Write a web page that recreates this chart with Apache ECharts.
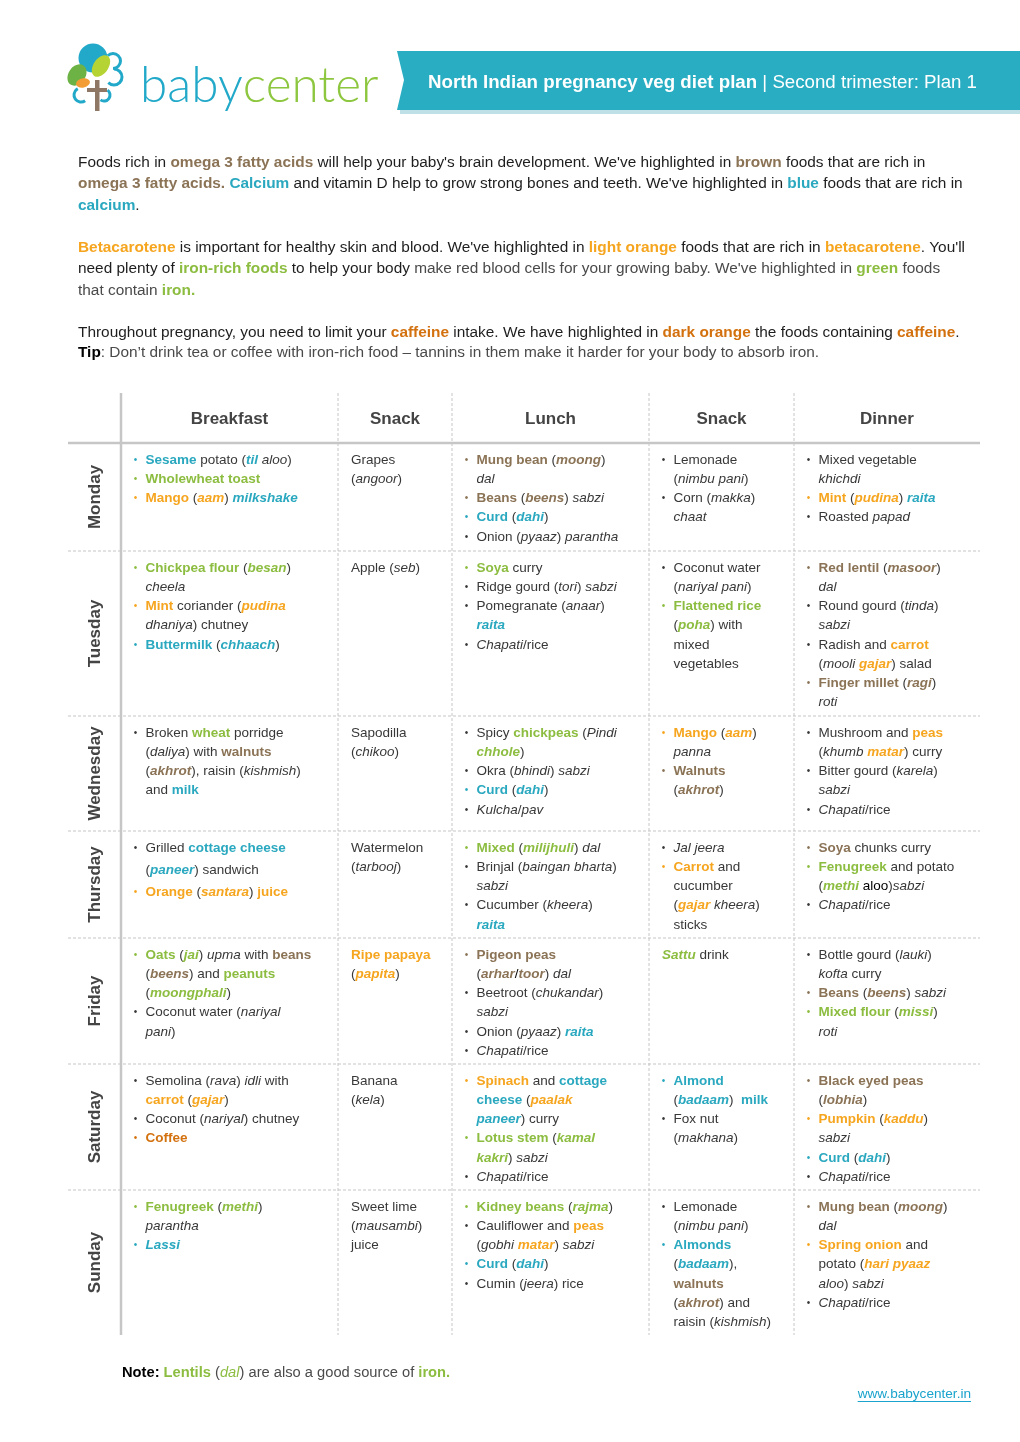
<!DOCTYPE html>
<html><head><meta charset="utf-8">
<script src="https://cdn.jsdelivr.net/npm/echarts@6/dist/echarts.min.js"></script>
<style>html,body{margin:0;padding:0;background:#fff}#c{width:1020px;height:1442px}</style>
</head><body><div id="c"></div>
<script>
// ---------- DATA ----------
const title = ['North Indian pregnancy veg diet plan', '| Second trimester: Plan 1'];
const logoWords = ['baby', 'center'];
const introLines = [
  "Foods rich in {bB|omega 3 fatty acids} will help your baby's brain development. We've highlighted in {bB|brown} foods that are rich in",
  "{bB|omega 3 fatty acids.} {bT|Calcium} and vitamin D help to grow strong bones and teeth. We've highlighted in {bT|blue} foods that are rich in",
  "{bT|calcium}.",
  "{bO|Betacarotene} is important for healthy skin and blood. We've highlighted in {bO|light orange} foods that are rich in {bO|betacarotene}. You'll",
  "need plenty of {bG|iron-rich foods} to help your body {g|make red blood cells for your growing baby. We've highlighted in} {bG|green} {g|foods}",
  "{g|that contain} {bG|iron.}",
  "Throughout pregnancy, you need to limit your {bD|caffeine} intake. We have highlighted in {bD|dark orange} the foods containing {bD|caffeine}.",
  "{kb|Tip}{g|: Don\u2019t drink tea or coffee with iron-rich food \u2013 tannins in them make it harder for your body to absorb iron.}"
];
const days = ['Monday', 'Tuesday', 'Wednesday', 'Thursday', 'Friday', 'Saturday', 'Sunday'];
const meals = ['Breakfast', 'Snack', 'Lunch', 'Snack', 'Dinner'];

// each cell: list of [bulletColourKey ('' = no bullet), rich text]
const monday = [
  [['T', '{bT|Sesame} potato ({iT|til} {i|aloo})'], ['G', '{bG|Wholewheat toast}'], ['O', '{bO|Mango} ({iO|aam}) {iT|milkshake}']],
  [['', 'Grapes\n({i|angoor})']],
  [['B', '{bB|Mung bean} ({iB|moong})\n{i|dal}'], ['B', '{bB|Beans} ({iB|beens}) {i|sabzi}'], ['T', '{bT|Curd} ({iT|dahi})'], ['n', 'Onion ({i|pyaaz}) {i|parantha}']],
  [['n', 'Lemonade\n({i|nimbu pani})'], ['n', 'Corn ({i|makka})\n{i|chaat}']],
  [['n', 'Mixed vegetable\n{i|khichdi}'], ['O', '{bO|Mint} ({iO|pudina}) {iT|raita}'], ['n', 'Roasted {i|papad}']]
];
const tuesday = [
  [['G', '{bG|Chickpea flour} ({iG|besan})\n{i|cheela}'], ['O', '{bO|Mint} coriander ({iO|pudina}\n{i|dhaniya}) chutney'], ['T', '{bT|Buttermilk} ({iT|chhaach})']],
  [['', 'Apple ({i|seb})']],
  [['G', '{bG|Soya} curry'], ['n', 'Ridge gourd ({i|tori}) {i|sabzi}'], ['n', 'Pomegranate ({i|anaar})\n{iT|raita}'], ['n', '{i|Chapati}/rice']],
  [['n', 'Coconut water\n({i|nariyal pani})'], ['G', '{bG|Flattened rice}\n({iG|poha}) with\nmixed\nvegetables']],
  [['B', '{bB|Red lentil} ({iB|masoor})\n{i|dal}'], ['n', 'Round gourd ({i|tinda})\n{i|sabzi}'], ['n', 'Radish and {bO|carrot}\n({i|mooli} {iO|gajar}) salad'], ['B', '{bB|Finger millet} ({iB|ragi})\n{i|roti}']]
];
const wednesday = [
  [['n', 'Broken {bG|wheat} porridge\n({i|daliya}) with {bB|walnuts}\n({iB|akhrot}), raisin ({i|kishmish})\nand {bT|milk}']],
  [['', 'Sapodilla\n({i|chikoo})']],
  [['n', 'Spicy {bG|chickpeas} ({i|Pindi}\n{iG|chhole})'], ['n', 'Okra ({i|bhindi}) {i|sabzi}'], ['T', '{bT|Curd} ({iT|dahi})'], ['n', '{i|Kulcha}/{i|pav}']],
  [['O', '{bO|Mango} ({iO|aam})\n{i|panna}'], ['B', '{bB|Walnuts}\n({iB|akhrot})']],
  [['n', 'Mushroom and {bO|peas}\n({i|khumb} {iO|matar}) curry'], ['n', 'Bitter gourd ({i|karela})\n{i|sabzi}'], ['n', '{i|Chapati}/rice']]
];
const thursday = [
  [['n', 'Grilled {bT|cottage cheese}\n({iT|paneer}) sandwich'], ['O', '{bO|Orange} ({iO|santara}) {bO|juice}']],
  [['', 'Watermelon\n({i|tarbooj})']],
  [['G', '{bG|Mixed} ({iG|milijhuli}) {i|dal}'], ['n', 'Brinjal ({i|baingan bharta})\n{i|sabzi}'], ['n', 'Cucumber ({i|kheera})\n{iT|raita}']],
  [['n', '{i|Jal jeera}'], ['O', '{bO|Carrot} and\ncucumber\n({iO|gajar} {i|kheera})\nsticks']],
  [['B', '{bB|Soya} chunks curry'], ['G', '{bG|Fenugreek} and potato\n({iG|methi} {k|aloo}){i|sabzi}'], ['n', '{i|Chapati}/rice']]
];
const friday = [
  [['G', '{bG|Oats} ({iG|jai}) {i|upma} with {bB|beans}\n({iB|beens}) and {bG|peanuts}\n({iG|moongphali})'], ['n', 'Coconut water ({i|nariyal}\n{i|pani})']],
  [['', '{bO|Ripe papaya}\n({iO|papita})']],
  [['B', '{bB|Pigeon peas}\n({iB|arhar}{k|/}{iB|toor}) {i|dal}'], ['n', 'Beetroot ({i|chukandar})\n{i|sabzi}'], ['n', 'Onion ({i|pyaaz}) {iT|raita}'], ['n', '{i|Chapati}/rice']],
  [['', '{iG|Sattu} drink']],
  [['n', 'Bottle gourd ({i|lauki})\n{i|kofta} curry'], ['B', '{bB|Beans} ({iB|beens}) {i|sabzi}'], ['G', '{bG|Mixed flour} ({iG|missi})\n{i|roti}']]
];
const saturday = [
  [['n', 'Semolina ({i|rava}) {i|idli} with\n{bO|carrot} ({iO|gajar})'], ['n', 'Coconut ({i|nariyal}) chutney'], ['D', '{bD|Coffee}']],
  [['', 'Banana\n({i|kela})']],
  [['O', '{bO|Spinach} and {bT|cottage}\n{bT|cheese} ({iO|paalak}\n{iT|paneer}) curry'], ['G', '{bG|Lotus stem} ({iG|kamal}\n{iG|kakri}) {i|sabzi}'], ['n', '{i|Chapati}/rice']],
  [['T', '{bT|Almond}\n({iT|badaam})  {bT|milk}'], ['n', 'Fox nut\n({i|makhana})']],
  [['B', '{bB|Black eyed peas}\n({iB|lobhia})'], ['O', '{bO|Pumpkin} ({iO|kaddu})\n{i|sabzi}'], ['T', '{bT|Curd} ({iT|dahi})'], ['n', '{i|Chapati}/rice']]
];
const sunday = [
  [['G', '{bG|Fenugreek} ({iG|methi})\n{i|parantha}'], ['T', '{iT|Lassi}']],
  [['', 'Sweet lime\n({i|mausambi})\njuice']],
  [['G', '{bG|Kidney beans} ({iG|rajma})'], ['n', 'Cauliflower and {bO|peas}\n({i|gobhi} {iO|matar}) {i|sabzi}'], ['T', '{bT|Curd} ({iT|dahi})'], ['n', 'Cumin ({i|jeera}) rice']],
  [['n', 'Lemonade\n({i|nimbu pani})'], ['T', '{bT|Almonds}\n({iT|badaam}),\n{bB|walnuts}\n({iB|akhrot}) and\nraisin ({i|kishmish})']],
  [['B', '{bB|Mung bean} ({iB|moong})\n{i|dal}'], ['O', '{bO|Spring onion} and\npotato ({iO|hari pyaaz}\n{i|aloo}) {i|sabzi}'], ['n', '{i|Chapati}/rice']]
];
const noteText = '{kb|Note:} {bG|Lentils} ({iGn|dal}) are also a good source of {bG|iron.}';
const siteUrl = 'www.babycenter.in';

// ---------- LAYOUT / STYLE ----------
const F = "'Liberation Sans', Arial, Helvetica, sans-serif";
const C = {
  text: '#383838', head: '#444444', brown: '#8b7356', teal: '#2aa8bf', orange: '#f6a51f',
  green: '#8cbd40', dorange: '#d3710f', gray: '#4a4a4a', grid: '#c6c6c6', banner: '#29adc3'
};
const bulletFill = { T: C.teal, G: C.green, O: C.orange, B: C.brown, D: C.dorange, n: C.text };
function richSet(size, lh, baseFill) {
  const s = (fill, fw, fs) => ({ fill, fontWeight: fw, fontStyle: fs, fontSize: size, fontFamily: F, lineHeight: lh });
  return {
    i: s(baseFill, 'normal', 'italic'), k: s('#000', 'normal', 'normal'), kb: s('#000', 'bold', 'normal'),
    g: s(C.gray, 'normal', 'normal'),
    bB: s(C.brown, 'bold', 'normal'), iB: s(C.brown, 'bold', 'italic'),
    bT: s(C.teal, 'bold', 'normal'), iT: s(C.teal, 'bold', 'italic'),
    bO: s(C.orange, 'bold', 'normal'), iO: s(C.orange, 'bold', 'italic'),
    bG: s(C.green, 'bold', 'normal'), iG: s(C.green, 'bold', 'italic'), iGn: s(C.green, 'normal', 'italic'),
    bD: s(C.dorange, 'bold', 'normal')
  };
}
const colX = [121, 338, 452, 649, 794, 980];
const rowY = [443, 551, 716, 831, 938, 1064, 1190, 1335];
const tableLeft = 68, tableTop = 393;
const introY = [163, 184, 206, 248, 269, 291, 333, 353];
const introSize = 15.4;
const cellSize = 13.5, cellLH = 19.2;

const els = [];
// banner
els.push({ type: 'rect', shape: { x: 400, y: 109, width: 620, height: 5 }, style: { fill: '#bfe0e7' } });
els.push({ type: 'polygon', shape: { points: [[397, 51], [1020, 51], [1020, 110], [397, 110], [404, 80]] }, style: { fill: C.banner } });
els.push({ type: 'text', x: 428, y: 83, style: {
  text: '{tb|' + title[0] + '} ' + title[1], verticalAlign: 'middle', align: 'left',
  fill: '#fff', fontSize: 18.7, fontFamily: F,
  rich: { tb: { fill: '#fff', fontWeight: 'bold', fontSize: 18.7, fontFamily: F } } } });

// logo
const lt = '#22a9c9', lg = '#8dc63f';
els.push({ type: 'circle', shape: { cx: 93, cy: 58, r: 14.5 }, style: { fill: lt } });
els.push({ type: 'arc', shape: { cx: 113, cy: 61, r: 7.5, startAngle: -Math.PI * 0.75, endAngle: Math.PI * 0.5 }, style: { stroke: lt, lineWidth: 3, fill: null } });
els.push({ type: 'arc', shape: { cx: 114, cy: 77, r: 8, startAngle: -Math.PI * 0.5, endAngle: Math.PI * 0.75 }, style: { stroke: lt, lineWidth: 3, fill: null } });
els.push({ type: 'arc', shape: { cx: 81, cy: 95, r: 7, startAngle: Math.PI * 0.3, endAngle: Math.PI * 1.35 }, style: { stroke: lt, lineWidth: 3, fill: null } });
els.push({ type: 'arc', shape: { cx: 104, cy: 95, r: 6, startAngle: -Math.PI * 0.3, endAngle: Math.PI * 0.7 }, style: { stroke: lt, lineWidth: 3, fill: null } });
els.push({ type: 'ellipse', shape: { cx: 0, cy: 0, rx: 8.5, ry: 11.5 }, x: 77, y: 75, rotation: -0.6, style: { fill: '#6cb244' } });
els.push({ type: 'ellipse', shape: { cx: 0, cy: 0, rx: 7.5, ry: 12 }, x: 101, y: 66, rotation: -0.6, style: { fill: '#b6d334' } });
els.push({ type: 'ellipse', shape: { cx: 0, cy: 0, rx: 7, ry: 4.5 }, x: 83, y: 83, rotation: 0.2, style: { fill: '#f49c34' } });
els.push({ type: 'rect', shape: { x: 95, y: 80, width: 4.5, height: 31 }, style: { fill: '#8e7764' } });
els.push({ type: 'rect', shape: { x: 87, y: 88, width: 20, height: 4 }, style: { fill: '#8e7764' } });
els.push({ type: 'text', x: 140, y: 86, style: {
  text: '{a|' + logoWords[0] + '}{b|' + logoWords[1] + '}', verticalAlign: 'middle',
  rich: { a: { fill: lt, fontSize: 49.5, fontWeight: 300, fontFamily: 'Lato, sans-serif' }, b: { fill: lg, fontSize: 49.5, fontWeight: 300, fontFamily: 'Lato, sans-serif' } } } });

// intro paragraphs
const introRich = richSet(introSize, 20, '#222');
introLines.forEach((t, k) => {
  els.push({ type: 'text', x: 78, y: introY[k], style: { text: t, verticalAlign: 'middle', fill: '#1e1e1e', fontSize: introSize, fontFamily: F, rich: introRich } });
});

// grid lines
const right = colX[colX.length - 1], bottom = rowY[rowY.length - 1];
for (let c = 1; c < colX.length - 1; c++) {
  els.push({ type: 'line', shape: { x1: colX[c], y1: tableTop, x2: colX[c], y2: bottom }, style: { stroke: C.grid, lineWidth: 1, lineDash: [3, 2] } });
}
for (let r = 1; r < rowY.length - 1; r++) {
  els.push({ type: 'line', shape: { x1: tableLeft, y1: rowY[r], x2: right, y2: rowY[r] }, style: { stroke: C.grid, lineWidth: 1.2, lineDash: [3, 2] } });
}
els.push({ type: 'line', shape: { x1: tableLeft, y1: rowY[0], x2: right, y2: rowY[0] }, style: { stroke: C.grid, lineWidth: 2.5 } });
els.push({ type: 'line', shape: { x1: colX[0], y1: tableTop, x2: colX[0], y2: bottom }, style: { stroke: C.grid, lineWidth: 2.5 } });

// headers
meals.forEach((m, c) => {
  els.push({ type: 'text', x: (colX[c] + colX[c + 1]) / 2, y: 419, style: { text: m, align: 'center', verticalAlign: 'middle', fill: C.head, fontSize: 17, fontWeight: 'bold', fontFamily: F } });
});
// day labels
days.forEach((d, r) => {
  els.push({ type: 'text', x: 95, y: (rowY[r] + rowY[r + 1]) / 2, rotation: Math.PI / 2, style: { text: d, align: 'center', verticalAlign: 'middle', fill: C.head, fontSize: 17, fontWeight: 'bold', fontFamily: F } });
});

// cells
const week = [monday, tuesday, wednesday, thursday, friday, saturday, sunday];
const specialLH = { '3-0': 22 };
week.forEach((row, r) => {
  row.forEach((cell, c) => {
    const lh = specialLH[r + '-' + c] || cellLH;
    const rich = richSet(cellSize, lh, C.text);
    let y = rowY[r] + 17 - lh / 2;
    cell.forEach(([b, t]) => {
      const n = t.split('\n').length;
      if (b) {
        els.push({ type: 'text', x: colX[c] + 14.5, y: y + lh / 2, style: { text: '\u2022', align: 'center', verticalAlign: 'middle', fill: bulletFill[b], fontSize: 10, fontFamily: F } });
      }
      els.push({ type: 'text', x: colX[c] + (b ? 24.5 : 13), y: y, style: { text: t, align: 'left', verticalAlign: 'top', fill: C.text, fontSize: cellSize, fontFamily: F, lineHeight: lh, rich } });
      y += n * lh;
    });
  });
});

// footer
els.push({ type: 'text', x: 122, y: 1373, style: { text: noteText, verticalAlign: 'middle', fill: C.gray, fontSize: 14.7, fontFamily: F, rich: richSet(14.7, 18, C.gray) } });
const cv = document.createElement('canvas').getContext('2d');
cv.font = '13.6px ' + F;
const uw = cv.measureText(siteUrl).width;
els.push({ type: 'text', x: 971, y: 1394, style: { text: siteUrl, align: 'right', verticalAlign: 'middle', fill: '#1aa3cc', fontSize: 13.6, fontFamily: F } });
els.push({ type: 'line', shape: { x1: 971 - uw, y1: 1401.5, x2: 971, y2: 1401.5 }, style: { stroke: '#1aa3cc', lineWidth: 1 } });

const chart = echarts.init(document.getElementById('c'), null, { renderer: 'canvas' });
chart.setOption({ animation: false, backgroundColor: '#fff', graphic: { elements: els } });
</script></body></html>
